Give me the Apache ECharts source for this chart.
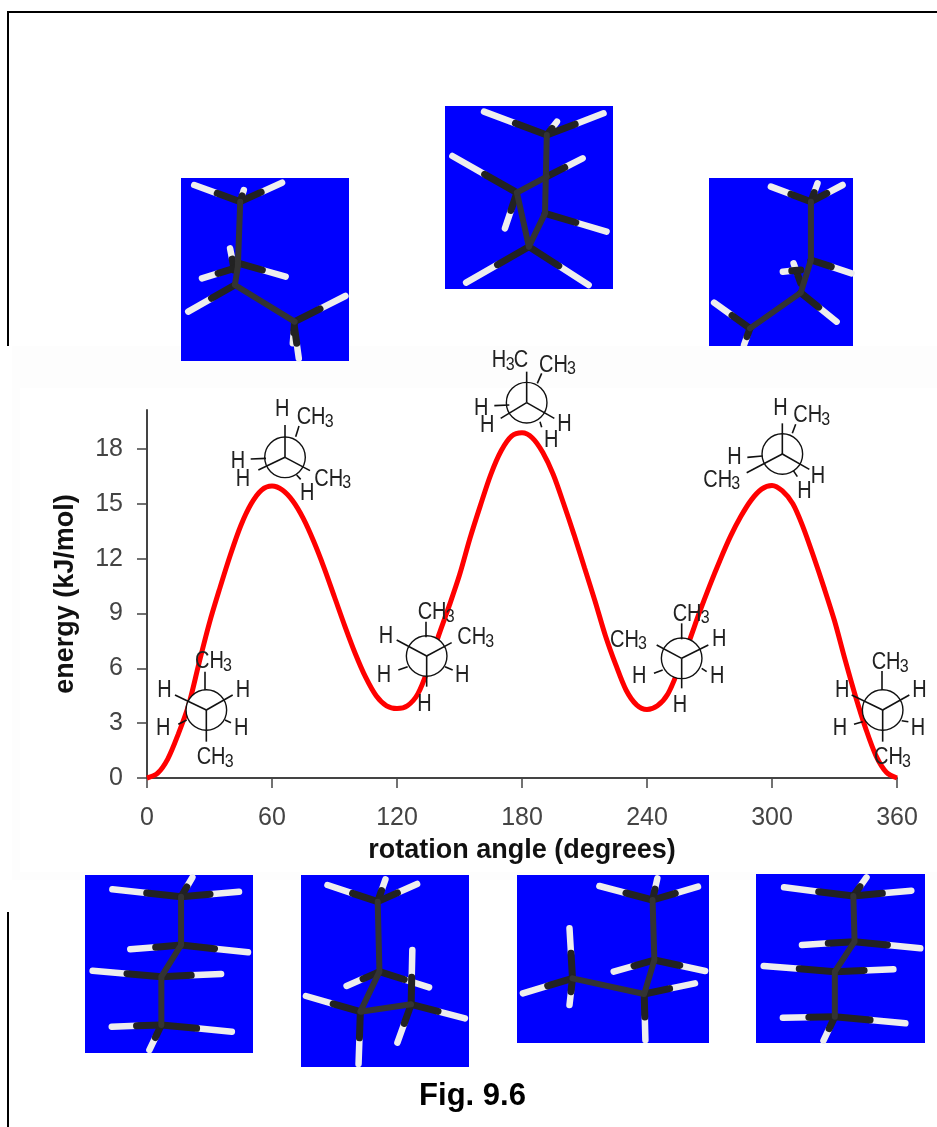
<!DOCTYPE html>
<html><head><meta charset="utf-8">
<style>html,body{margin:0;padding:0;background:#fff}#c{width:937px;height:1127px}</style>
<script src="https://cdn.jsdelivr.net/npm/echarts@6/dist/echarts.min.js"></script>
</head><body><div id="c"></div>
<script>
const angles = [];
for (let a = 0; a <= 360; a += 5) angles.push(a);
const energy = [0,0.25,1.05,2.4,4.0,6.3,8.5,10.4,12.2,13.8,15.0,15.75,15.97,15.75,15.15,14.2,12.95,11.5,9.9,8.3,6.8,5.5,4.5,3.95,3.8,3.95,4.6,6.0,7.8,9.4,11.1,13.1,14.9,16.6,17.9,18.7,18.88,18.6,17.8,16.6,15.0,13.3,11.5,9.7,7.8,6.2,4.8,4.0,3.75,3.95,4.6,5.9,7.4,9.0,10.5,11.9,13.2,14.3,15.2,15.8,16.0,15.7,15.0,13.7,12.1,10.4,8.6,6.5,4.5,2.7,1.2,0.3,0];
const xTicks = [0,60,120,180,240,300,360];
const yTicks = [0,3,6,9,12,15,18];

// 3-D molecule pictures: [x0,y0,w,h] boxes, then bonds in crop coordinates
const z3 = p => [p[0]/1.6734, p[1]/3];
const z4 = p => [p[0]/1.6734, p[1]/3+770];
const molecules = [
 {box:[709,178,144,168], map:z3, cc:[[[1357,605],[1357,780],[1340,878],[1255,985]]],
  ch:[[[1357,605],[1290,560]],[[1357,605],[1368,550]],[[1357,605],[1410,555]],[[1357,780],[1425,820]],[[1340,850],[1328,790]],[[1340,810],[1310,815]],[[1340,878],[1400,965]],[[1255,985],[1195,908]],[[1255,985],[1245,1035]]]},
 {box:[181,178,168,183], map:z3, cc:[[[402,605],[398,800],[393,855],[493,965]]],
  ch:[[[402,605],[325,555]],[[402,605],[408,570]],[[402,605],[472,548]],[[392,810],[385,745]],[[392,805],[338,835]],[[400,790],[478,830]],[[393,855],[315,935]],[[493,965],[578,888]],[[493,965],[490,1030]],[[493,985],[500,1075]]]},
 {box:[445,106,168,183], map:z3, cc:[[[915,405],[912,640],[885,740]],[[865,578],[885,740]],[[865,578],[915,530]]],
  ch:[[[915,405],[810,335]],[[915,405],[932,365]],[[915,405],[1010,340]],[[915,530],[975,475]],[[865,578],[757,468]],[[865,578],[845,685]],[[912,640],[1015,695]],[[885,740],[780,848]],[[885,740],[985,855]]]},
 {box:[85,875,168,178], map:z4, cc:[[[303,380],[303,525],[270,620],[270,765]]],
  ch:[[[303,380],[188,358]],[[303,380],[322,322]],[[303,380],[400,365]],[[303,525],[218,538]],[[303,525],[415,547]],[[270,620],[155,602]],[[270,620],[370,612]],[[270,765],[187,770]],[[270,765],[388,785]],[[270,765],[250,840]]]},
 {box:[301,875,168,192], map:z4, cc:[[[632,395],[635,605],[603,725],[688,703]]],
  ch:[[[632,395],[548,345]],[[632,395],[645,328]],[[632,395],[698,342]],[[635,605],[580,648]],[[635,605],[718,652]],[[603,725],[512,678]],[[603,725],[600,882]],[[688,703],[778,745]],[[688,703],[690,540]],[[688,703],[665,818]]]},
 {box:[517,875,192,168], map:z4, cc:[[[1092,390],[1095,570],[1078,672],[958,625]]],
  ch:[[[1092,390],[1003,348]],[[1092,390],[1100,325]],[[1092,390],[1168,350]],[[1095,570],[1027,605]],[[1095,570],[1180,603]],[[1078,672],[1163,640]],[[1078,672],[1080,810]],[[958,625],[953,475]],[[958,625],[875,670]],[[958,625],[953,705]]]},
 {box:[756,874,169,169], map:z4, cc:[[[1428,378],[1430,515],[1397,605],[1397,740]]],
  ch:[[[1428,378],[1312,352]],[[1428,378],[1450,322]],[[1428,378],[1525,362]],[[1430,515],[1342,525]],[[1430,515],[1540,535]],[[1397,605],[1278,588]],[[1397,605],[1495,598]],[[1397,740],[1310,743]],[[1397,740],[1515,760]],[[1397,740],[1378,812]]]}
];

// Newman projections: origin of the crop, centre, front spokes, rear stubs, labels [text,left,centreY]
const newmans = [
 {o:[130,380], c:[229,990], sp:[[229,1085],[135,945],[308,945]], st:[[[225,930],[225,875]],[[170,1020],[145,1033]],[[285,1020],[303,1028]]],
  t:[['CH3',195,838],['H',82,925],['H',317,925],['H',78,1037],['H',312,1037],['CH3',200,1125]]},
 {o:[130,380], c:[465,232], sp:[[465,135],[385,270],[540,272]], st:[[[497,170],[507,138]],[[408,235],[362,237]],[[500,285],[512,298]]],
  t:[['H',435,82],['CH3',500,105],['H',302,237],['H',317,290],['CH3',553,290],['H',510,333]]},
 {o:[130,380], c:[890,828], sp:[[890,920],[800,780],[965,788]], st:[[[888,772],[888,725]],[[833,860],[805,870]],[[945,860],[968,870]]],
  t:[['CH3',863,690],['H',746,762],['CH3',982,765],['H',740,880],['H',975,880],['H',862,967]]},
 {o:[460,340], c:[200,188], sp:[[200,95],[122,235],[283,235]], st:[[[232,130],[245,100]],[[148,195],[103,197]],[[240,245],[245,262]]],
  t:[['H3C',95,55],['CH3',237,68],['H',42,198],['H',60,250],['H',292,245],['H',252,295]]},
 {o:[530,380], c:[757,222], sp:[[757,130],[650,278],[838,268]], st:[[[787,160],[797,133]],[[697,228],[652,232]],[[790,272],[802,290]]],
  t:[['H',730,78],['CH3',790,100],['H',592,225],['CH3',520,293],['H',842,282],['H',802,328]]},
 {o:[530,380], c:[455,835], sp:[[455,925],[380,795],[535,795]], st:[[[455,778],[455,730]],[[398,870],[372,880]],[[515,865],[530,875]]],
  t:[['CH3',428,695],['CH3',240,773],['H',546,772],['H',306,883],['H',540,883],['H',428,970]]},
 {o:[530,380], c:[1058,990], sp:[[1058,1085],[965,945],[1138,945]], st:[[[1056,930],[1056,873]],[[998,1025],[972,1033]],[[1115,1022],[1135,1025]]],
  t:[['CH3',1025,840],['H',915,925],['H',1147,925],['H',908,1037],['H',1142,1037],['CH3',1032,1125]]}
];

const g = [];
const FONT = 'Liberation Sans, Arial, sans-serif';
function line(a,b,w,col,z,cap){g.push({type:'line',z:z,silent:true,shape:{x1:a[0],y1:a[1],x2:b[0],y2:b[1]},style:{stroke:col,lineWidth:w,lineCap:cap||'butt'}});}
function text(s,x,y,size,col,z,w,align,sy){g.push({type:'text',z:z,silent:true,scaleY:sy||1,originX:x,originY:y,style:{text:s,x:x,y:y,fill:col,font:(w||'normal')+' '+size+'px '+FONT,align:align||'left',verticalAlign:'middle'}});}

function drawMol(m,zb){
  g.push({type:'rect',z:zb,silent:true,shape:{x:m.box[0],y:m.box[1],width:m.box[2],height:m.box[3]},style:{fill:'#0000ff'}});
  m.ch.forEach(b=>{
    const a=m.map(b[0]),e=m.map(b[1]),mid=[(a[0]+e[0])/2,(a[1]+e[1])/2];
    line(mid,e,6.5,'#eeeeee',zb+1,'round');
    line(a,mid,7,'#222222',zb+1,'round');
  });
  m.cc.forEach(path=>{
    g.push({type:'polyline',z:zb+2,silent:true,shape:{points:path.map(m.map)},style:{stroke:'#333',lineWidth:6,fill:null,lineJoin:'round',lineCap:'round'}});
  });
}

// top-right picture is partly hidden by the chart panel
drawMol(molecules[0],1);
g.push({type:'rect',z:4,silent:true,shape:{x:12,y:346,width:925,height:534},style:{fill:'#fdfdfd'}});
g.push({type:'rect',z:4,silent:true,shape:{x:20,y:388,width:917,height:484},style:{fill:'#ffffff'}});
for(let i=1;i<molecules.length;i++) drawMol(molecules[i],5);

// page frame
line([8,12],[937,12],2,'#000',9);
line([8,11],[8,346],2,'#000',9);
line([8,912],[8,1127],2,'#000',9);

newmans.forEach(n=>{
  const P=p=>[n.o[0]+p[0]/3,n.o[1]+p[1]/3];
  const c=P(n.c);
  g.push({type:'circle',z:20,silent:true,shape:{cx:c[0],cy:c[1],r:20.3},style:{fill:'#fff',stroke:'#111',lineWidth:1.4}});
  n.sp.forEach(e=>line(c,P(e),1.6,'#111',21));
  n.st.forEach(s=>line(P(s[0]),P(s[1]),1.6,'#111',21));
  const SY=1.15, DY=2.5;
  n.t.forEach(t=>{
    const p=P([t[1],t[2]]); p[1]+=DY;
    if(t[0]==='H') text('H',p[0],p[1],20,'#222',22,null,null,SY);
    else if(t[0]==='CH3'){text('CH',p[0],p[1],20,'#222',22,null,null,SY);text('3',p[0]+28,p[1]+4,16,'#222',22,null,null,SY);}
    else {text('H',p[0],p[1],20,'#222',22,null,null,SY);text('3',p[0]+14,p[1]+4,16,'#222',22,null,null,SY);text('C',p[0]+22,p[1],20,'#222',22,null,null,SY);}
  });
});

text('Fig. 9.6',472.5,1096,31,'#000',22,'bold','center');

const chart = echarts.init(document.getElementById('c'),null,{renderer:'canvas'});
chart.setOption({
  animation:false,
  backgroundColor:'#fff',
  grid:{left:147,top:410,width:750,height:368,containLabel:false},
  xAxis:{type:'value',min:0,max:360,interval:60,z:10,
    name:'rotation angle (degrees)',nameLocation:'middle',nameGap:59,
    nameTextStyle:{fontFamily:FONT,fontWeight:'bold',fontSize:27,color:'#111'},
    axisLine:{onZero:false,lineStyle:{color:'#444',width:2}},
    axisTick:{show:true,length:10,lineStyle:{color:'#444',width:1.5},customValues:xTicks},
    axisLabel:{fontFamily:FONT,fontSize:25,color:'#444',margin:28,customValues:xTicks,hideOverlap:false},
    splitLine:{show:false}},
  yAxis:{type:'value',min:0,max:20.13,z:10,
    name:'energy (kJ/mol)',nameLocation:'middle',nameGap:68,
    nameTextStyle:{fontFamily:FONT,fontWeight:'bold',fontSize:27,color:'#111'},
    axisLine:{onZero:false,lineStyle:{color:'#444',width:2}},
    axisTick:{show:true,length:10,lineStyle:{color:'#444',width:1.5},customValues:yTicks},
    axisLabel:{fontFamily:FONT,fontSize:25,color:'#444',margin:24,padding:[3,0,0,0],customValues:yTicks},
    splitLine:{show:false}},
  series:[{type:'line',z:12,data:angles.map((a,i)=>[a,energy[i]]),showSymbol:false,smooth:0.3,clip:false,
    lineStyle:{color:'#ff0000',width:5}}],
  graphic:{elements:g}
});
</script></body></html>
